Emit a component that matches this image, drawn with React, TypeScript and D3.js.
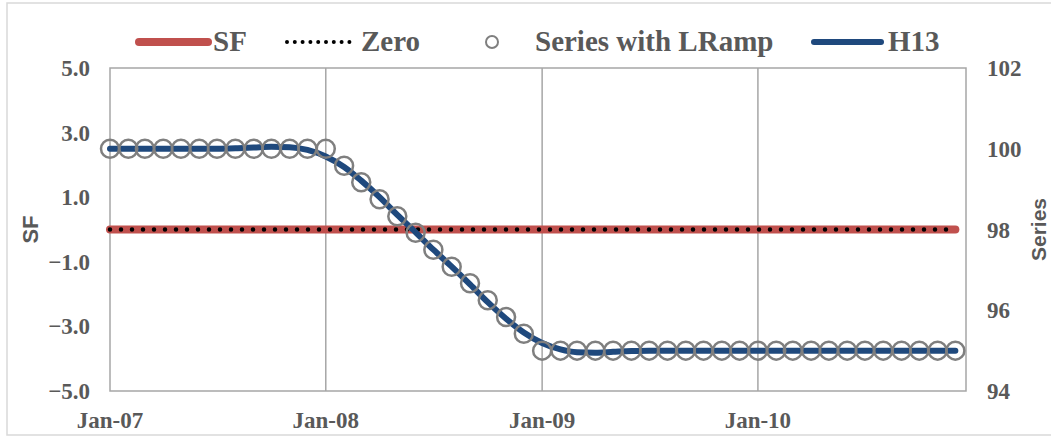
/**
 * Seasonal factor chart with a linear ramp series and its H13 trend.
 */
import React, {useEffect, useRef} from 'react';
import * as d3 from 'd3';

// Monthly categories Jan-07 .. Dec-10
const months: Date[] = d3.timeMonth.range(
  new Date(2007, 0, 1),
  new Date(2011, 0, 1),
);

const sfValues = [
  0, 0, 0, 0, 0, 0, 0, 0, 0, 0, 0, 0,
  0, 0, 0, 0, 0, 0, 0, 0, 0, 0, 0, 0,
  0, 0, 0, 0, 0, 0, 0, 0, 0, 0, 0, 0,
  0, 0, 0, 0, 0, 0, 0, 0, 0, 0, 0, 0,
];

const zeroValues = [
  0, 0, 0, 0, 0, 0, 0, 0, 0, 0, 0, 0,
  0, 0, 0, 0, 0, 0, 0, 0, 0, 0, 0, 0,
  0, 0, 0, 0, 0, 0, 0, 0, 0, 0, 0, 0,
  0, 0, 0, 0, 0, 0, 0, 0, 0, 0, 0, 0,
];

const rampValues = [
  100, 100, 100, 100, 100, 100, 100, 100, 100, 100, 100, 100,
  100, 99.58, 99.17, 98.75, 98.33, 97.92, 97.5, 97.08, 96.67, 96.25, 95.83, 95.42,
  95, 95, 95, 95, 95, 95, 95, 95, 95, 95, 95, 95,
  95, 95, 95, 95, 95, 95, 95, 95, 95, 95, 95, 95,
];

const h13Values = [
  100, 100, 100, 100, 100, 100, 100, 100.01, 100.03, 100.05, 100.04, 99.97,
  99.81, 99.55, 99.21, 98.8, 98.36, 97.93, 97.5, 97.08, 96.64, 96.2, 95.79, 95.45,
  95.19, 95.03, 94.96, 94.95, 94.97, 94.99, 95, 95, 95, 95, 95, 95,
  95, 95, 95, 95, 95, 95, 95, 95, 95, 95, 95, 95,
];

const leftTicks = [5, 3, 1, -1, -3, -5];
const rightTicks = [102, 100, 98, 96, 94];
const yearTicks = [
  new Date(2007, 0, 1),
  new Date(2008, 0, 1),
  new Date(2009, 0, 1),
  new Date(2010, 0, 1),
];

const WIDTH = 1051;
const HEIGHT = 437;
const GREY = '#595959';
const GRID = '#a6a6a6';
const SERIF = '"Liberation Serif", "Times New Roman", serif';
const SANS = '"Liberation Sans", Arial, sans-serif';

export default function App() {
  const svgRef = useRef<SVGSVGElement>(null);

  useEffect(() => {
    if (!svgRef.current) return;
    const svg = d3.select(svgRef.current);
    svg.selectAll('*').remove();

    const plot = {left: 110, right: 966, top: 68, bottom: 391};

    const x = d3
      .scaleTime()
      .domain([new Date(2007, 0, 1), new Date(2010, 11, 19)])
      .range([plot.left, plot.right]);
    const yLeft = d3.scaleLinear().domain([-5, 5]).range([plot.bottom, plot.top]);
    const yRight = d3
      .scaleLinear()
      .domain([94, 102])
      .range([plot.bottom, plot.top]);

    // outer chart frame
    svg
      .append('rect')
      .attr('x', 7)
      .attr('y', 3)
      .attr('width', 1070)
      .attr('height', 432)
      .attr('fill', '#fff')
      .attr('stroke', '#d9d9d9')
      .attr('stroke-width', 1.5);

    // vertical grid lines
    svg
      .append('g')
      .selectAll('line')
      .data(yearTicks.slice(1))
      .enter()
      .append('line')
      .attr('x1', (d) => x(d))
      .attr('x2', (d) => x(d))
      .attr('y1', plot.top)
      .attr('y2', plot.bottom)
      .attr('stroke', GRID)
      .attr('stroke-width', 1.5);

    // plot area border
    svg
      .append('rect')
      .attr('x', plot.left)
      .attr('y', plot.top)
      .attr('width', plot.right - plot.left)
      .attr('height', plot.bottom - plot.top)
      .attr('fill', 'none')
      .attr('stroke', GRID)
      .attr('stroke-width', 1.5);

    // x labels
    svg
      .append('g')
      .selectAll('text')
      .data(yearTicks)
      .enter()
      .append('text')
      .attr('x', (d) => x(d))
      .attr('y', 428)
      .attr('text-anchor', 'middle')
      .style('font', `bold 23px ${SERIF}`)
      .attr('fill', GREY)
      .text((d) => d3.timeFormat('%b-%y')(d));

    // left axis labels
    svg
      .append('g')
      .selectAll('text')
      .data(leftTicks)
      .enter()
      .append('text')
      .attr('x', 90)
      .attr('y', (d) => yLeft(d))
      .attr('dy', '0.35em')
      .attr('text-anchor', 'end')
      .style('font', `bold 23px ${SERIF}`)
      .attr('fill', GREY)
      .text((d) => d3.format('.1f')(d));

    // right axis labels
    svg
      .append('g')
      .selectAll('text')
      .data(rightTicks)
      .enter()
      .append('text')
      .attr('x', 987)
      .attr('y', (d) => yRight(d))
      .attr('dy', '0.35em')
      .style('font', `bold 23px ${SERIF}`)
      .attr('fill', GREY)
      .text((d) => d);

    // axis titles
    svg
      .append('text')
      .attr('transform', `translate(38,${(plot.top + plot.bottom) / 2}) rotate(-90)`)
      .attr('text-anchor', 'middle')
      .style('font', `bold 22px ${SANS}`)
      .attr('fill', GREY)
      .text('SF');
    svg
      .append('text')
      .attr('transform', `translate(1046,${(plot.top + plot.bottom) / 2}) rotate(-90)`)
      .attr('text-anchor', 'middle')
      .style('font', `bold 21px ${SANS}`)
      .attr('fill', GREY)
      .text('Series');

    const lineLeft = d3
      .line<number>()
      .x((_, i) => x(months[i]))
      .y((d) => yLeft(d));
    const lineRight = d3
      .line<number>()
      .x((_, i) => x(months[i]))
      .y((d) => yRight(d))
      .curve(d3.curveMonotoneX);

    // SF
    svg
      .append('path')
      .attr('d', lineLeft(sfValues))
      .attr('fill', 'none')
      .attr('stroke', '#c0504d')
      .attr('stroke-width', 8)
      .attr('stroke-linecap', 'round');

    // Zero
    svg
      .append('path')
      .attr('d', lineLeft(zeroValues))
      .attr('fill', 'none')
      .attr('stroke', '#000')
      .attr('stroke-width', 4.5)
      .attr('stroke-linecap', 'round')
      .attr('stroke-dasharray', '0 11');

    // H13
    svg
      .append('path')
      .attr('d', lineRight(h13Values))
      .attr('fill', 'none')
      .attr('stroke', '#1f497d')
      .attr('stroke-width', 6)
      .attr('stroke-linecap', 'round');

    // Series with LRamp
    svg
      .append('g')
      .selectAll('circle')
      .data(rampValues)
      .enter()
      .append('circle')
      .attr('cx', (_, i) => x(months[i]))
      .attr('cy', (d) => yRight(d))
      .attr('r', 9)
      .attr('fill', 'none')
      .attr('stroke', '#7f7f7f')
      .attr('stroke-width', 2.5);

    // Legend
    const ly = 42;
    const legend = svg.append('g');
    const legendText = (tx: number, label: string) =>
      legend
        .append('text')
        .attr('x', tx)
        .attr('y', 51)
        .style('font', `bold 29px ${SERIF}`)
        .attr('fill', GREY)
        .text(label);

    legend
      .append('line')
      .attr('x1', 139).attr('x2', 208).attr('y1', ly).attr('y2', ly)
      .attr('stroke', '#c0504d').attr('stroke-width', 8).attr('stroke-linecap', 'round');
    legendText(213, 'SF');

    legend
      .append('line')
      .attr('x1', 287).attr('x2', 357).attr('y1', ly).attr('y2', ly)
      .attr('stroke', '#000').attr('stroke-width', 4).attr('stroke-linecap', 'round')
      .attr('stroke-dasharray', '0 7.8');
    legendText(361, 'Zero');

    legend
      .append('circle')
      .attr('cx', 492).attr('cy', ly).attr('r', 6)
      .attr('fill', 'none').attr('stroke', '#7f7f7f').attr('stroke-width', 2);
    legendText(535, 'Series with LRamp');

    legend
      .append('line')
      .attr('x1', 814).attr('x2', 881).attr('y1', ly).attr('y2', ly)
      .attr('stroke', '#1f497d').attr('stroke-width', 6).attr('stroke-linecap', 'round');
    legendText(888, 'H13');
  }, []);

  return (
    <svg
      ref={svgRef}
      width={WIDTH}
      height={HEIGHT}
      style={{position: 'absolute', left: 0, top: 0, background: '#fff'}}
    />
  );
}
